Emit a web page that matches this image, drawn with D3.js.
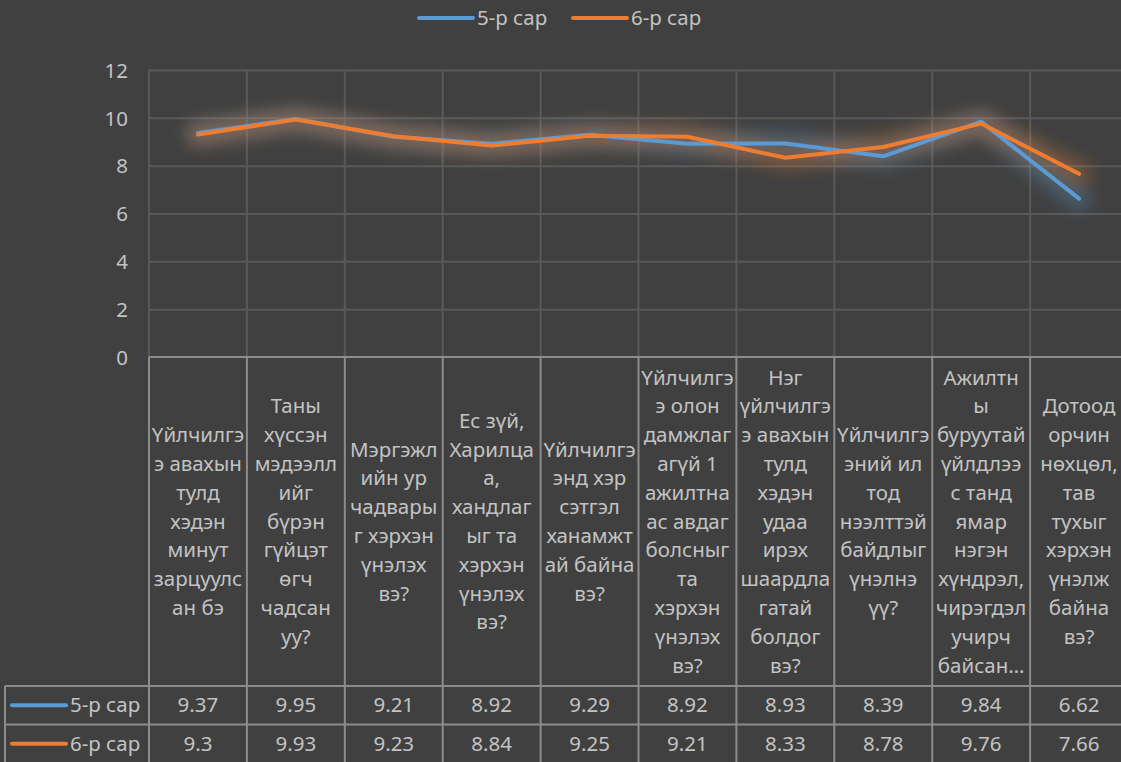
<!DOCTYPE html>
<html>
<head>
<meta charset="utf-8">
<script src="https://cdn.jsdelivr.net/npm/d3@7"></script>
<style>
  html, body { margin: 0; padding: 0; background: #404040; }
  svg { display: block; }
  text { font-family: "Noto Sans", "DejaVu Sans", sans-serif; fill: #c3c3c3; font-size: 20.5px; }
</style>
</head>
<body>
<svg id="chart" width="1121" height="762"></svg>
<script>
// Survey questions (line breaks follow the header cell wrapping)
const categories = [
  "Үйлчилгэ\nэ авахын\nтулд\nхэдэн\nминут\nзарцуулс\nан бэ",
  "Таны\nхүссэн\nмэдээлл\nийг\nбүрэн\nгүйцэт\nөгч\nчадсан\nуу?",
  "Мэргэжл\nийн ур\nчадвары\nг хэрхэн\nүнэлэх\nвэ?",
  "Ес зүй,\nХарилца\nа,\nхандлаг\nыг та\nхэрхэн\nүнэлэх\nвэ?",
  "Үйлчилгэ\nэнд хэр\nсэтгэл\nханамжт\nай байна\nвэ?",
  "Үйлчилгэ\nэ олон\nдамжлаг\nагүй 1\nажилтна\nас авдаг\nболсныг\nта\nхэрхэн\nүнэлэх\nвэ?",
  "Нэг\nүйлчилгэ\nэ авахын\nтулд\nхэдэн\nудаа\nирэх\nшаардла\nгатай\nболдог\nвэ?",
  "Үйлчилгэ\nэний ил\nтод\nнээлттэй\nбайдлыг\nүнэлнэ\nүү?",
  "Ажилтн\nы\nбуруутай\nүйлдлээ\nс танд\nямар\nнэгэн\nхүндрэл,\nчирэгдэл\nучирч\nбайсан…",
  "Дотоод\nорчин\nнөхцөл,\nтав\nтухыг\nхэрхэн\nүнэлж\nбайна\nвэ?"
];
const seriesNames = ["5-р сар", "6-р сар"];
const may = [9.37, 9.95, 9.21, 8.92, 9.29, 8.92, 8.93, 8.39, 9.84, 6.62];
const june = [9.3, 9.93, 9.23, 8.84, 9.25, 9.21, 8.33, 8.78, 9.76, 7.66];
const yTicks = [0, 2, 4, 6, 8, 10, 12];
const colors = ["#5b9bd5", "#ed7d31"];

const series = [may, june];

const svg = d3.select("#chart");
const W = 1121, H = 762;
const FS = 20.5;

const plotLeft = 149, plotRight = 1128, plotTop = 70, plotBottom = 357;
const headerBottom = 686, rowH = 38.5, tableLeft = 5;

const x = d3.scaleBand().domain(d3.range(categories.length)).range([plotLeft, plotRight]);
const y = d3.scaleLinear().domain([0, 12]).range([plotBottom, plotTop]);

// soft glow behind the lines
const defs = svg.append("defs");
const f = defs.append("filter").attr("id", "glow")
  .attr("x", "-20%").attr("y", "-80%").attr("width", "140%").attr("height", "260%");
f.append("feGaussianBlur").attr("stdDeviation", 8);

// horizontal gridlines
svg.append("g")
  .attr("transform", `translate(${plotLeft},0)`)
  .call(d3.axisLeft(y).tickValues(yTicks.filter(d => d > 0)).tickSize(-(plotRight - plotLeft)).tickFormat(""))
  .call(g => g.select(".domain").remove())
  .call(g => g.selectAll("line").attr("stroke", "#595959").attr("stroke-width", 2));

// vertical gridlines at category boundaries inside the plot
const bounds = d3.range(categories.length + 1).map(i => plotLeft + i * x.step());
svg.append("g").selectAll("line").data(bounds).join("line")
  .attr("x1", d => d).attr("x2", d => d)
  .attr("y1", plotTop).attr("y2", plotBottom)
  .attr("stroke", "#595959").attr("stroke-width", 2);

// y axis labels
svg.append("g")
  .attr("transform", `translate(${plotLeft - 21},0)`)
  .call(d3.axisLeft(y).tickValues(yTicks).tickSize(0).tickPadding(0))
  .attr("font-size", FS).attr("font-family", null)
  .call(g => g.select(".domain").remove())
  .call(g => g.selectAll("text").attr("font-size", FS).style("font-size", FS + "px")
    .attr("fill", "#c3c3c3").attr("dy", "0.35em"));

// lines
const line = d3.line().x((d, i) => x(i) + x.bandwidth() / 2).y(d => y(d));
series.forEach((s, k) => {
  svg.append("path").datum(s).attr("d", line)
    .attr("fill", "none").attr("stroke", colors[k]).attr("stroke-width", 24)
    .attr("stroke-opacity", 0.3).attr("stroke-linejoin", "round").attr("stroke-linecap", "round")
    .attr("filter", "url(#glow)");
});
series.forEach((s, k) => {
  svg.append("path").datum(s).attr("d", line)
    .attr("fill", "none").attr("stroke", colors[k]).attr("stroke-width", 4)
    .attr("stroke-linejoin", "round").attr("stroke-linecap", "round");
});

// data table
const border = "#8c8c8c";
const tbl = svg.append("g");

// header cells: category text
categories.forEach((c, i) => {
  const lines = c.split("\n");
  const cx = x(i) + x.bandwidth() / 2;
  const cy = (plotBottom + headerBottom) / 2;
  const lh = 28.8;
  const t = tbl.append("text").attr("text-anchor", "middle");
  lines.forEach((l, j) => {
    const ts = t.append("tspan").attr("x", cx)
      .attr("y", cy + (j - (lines.length - 1) / 2) * lh).attr("dy", "0.35em").text(l);
    const len = ts.node().getComputedTextLength();
    if (len > x.bandwidth() - 3) ts.attr("textLength", x.bandwidth() - 3).attr("lengthAdjust", "spacingAndGlyphs");
  });
});

// value rows
series.forEach((s, k) => {
  const ry = headerBottom + k * rowH;
  s.forEach((v, i) => {
    tbl.append("text").attr("x", x(i) + x.bandwidth() / 2).attr("y", ry + rowH / 2)
      .attr("dy", "0.35em").attr("text-anchor", "middle").text(v);
  });
  tbl.append("line").attr("x1", 12).attr("x2", 66).attr("y1", ry + rowH / 2).attr("y2", ry + rowH / 2)
    .attr("stroke", colors[k]).attr("stroke-width", 4).attr("stroke-linecap", "round");
  tbl.append("text").attr("x", 70).attr("y", ry + rowH / 2).attr("dy", "0.35em").text(seriesNames[k]);
});

// table borders
const hl = [plotBottom, headerBottom, headerBottom + rowH, headerBottom + 2 * rowH];
hl.forEach((yy, i) => {
  tbl.append("line").attr("x1", i === 0 ? plotLeft : tableLeft).attr("x2", W)
    .attr("y1", yy).attr("y2", yy).attr("stroke", border).attr("stroke-width", 2);
});
bounds.forEach(bx => {
  tbl.append("line").attr("x1", bx).attr("x2", bx).attr("y1", plotBottom).attr("y2", H + 5)
    .attr("stroke", border).attr("stroke-width", 2);
});
tbl.append("line").attr("x1", tableLeft).attr("x2", tableLeft).attr("y1", headerBottom).attr("y2", H + 5)
  .attr("stroke", border).attr("stroke-width", 2);

// legend
const legend = svg.append("g");
const legendX = [419, 573];
seriesNames.forEach((n, k) => {
  legend.append("line").attr("x1", legendX[k]).attr("x2", legendX[k] + 54).attr("y1", 18).attr("y2", 18)
    .attr("stroke", colors[k]).attr("stroke-width", 4).attr("stroke-linecap", "round");
  legend.append("text").attr("x", legendX[k] + 58).attr("y", 18).attr("dy", "0.35em").text(n);
});
</script>
</body>
</html>
